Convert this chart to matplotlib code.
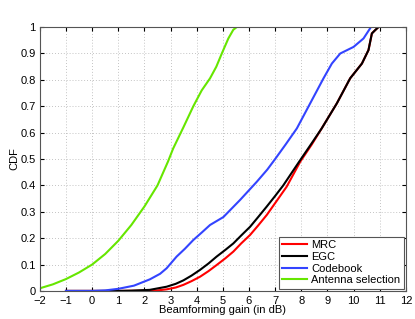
"""CDF of beamforming gain for several combining schemes (MATLAB-style figure)."""

import matplotlib
matplotlib.use("Agg")
import matplotlib.pyplot as plt

plt.rcParams["font.family"] = ["Liberation Sans", "DejaVu Sans"]

# values
mrc_x = [-1.0, 1.0, 2.0, 2.5, 2.85, 3.2, 3.49, 3.8, 4.13, 4.45, 4.76, 5.1, 5.4, 5.7,
         6.04, 6.35, 6.68, 7.05, 7.44, 7.96, 8.4, 8.78, 9.36, 9.87, 10.32, 10.57, 10.7,
         10.82, 10.95]
mrc_y = [0.0, 0.0, 0.001, 0.002, 0.006, 0.013, 0.023, 0.037, 0.054, 0.075, 0.098, 0.124,
         0.149, 0.18, 0.212, 0.248, 0.288, 0.34, 0.395, 0.49, 0.555, 0.616, 0.711, 0.806,
         0.862, 0.913, 0.976, 0.988, 1.0]

egc_x = [-1.0, 1.0, 1.5, 2.2, 2.85, 3.2, 3.49, 3.8, 4.13, 4.45, 4.76, 5.1, 5.4, 5.7,
         6.04, 6.35, 6.68, 7.0, 7.31, 7.96, 8.4, 8.78, 9.36, 9.87, 10.32, 10.57, 10.7,
         10.82, 10.95]
egc_y = [0.0, 0.0, 0.001, 0.004, 0.016, 0.027, 0.04, 0.058, 0.08, 0.104, 0.13, 0.156,
         0.18, 0.21, 0.243, 0.28, 0.32, 0.36, 0.40, 0.496, 0.56, 0.616, 0.711, 0.806,
         0.862, 0.913, 0.976, 0.988, 1.0]

cb_x = [-1.0, 0.0, 0.5, 1.0, 1.6, 2.21, 2.6, 2.85, 3.23, 3.55, 3.87, 4.2, 4.51, 5.02,
        5.66, 6.3, 6.7, 7.0, 7.4, 7.83, 8.34, 8.85, 9.17, 9.49, 10.0, 10.38, 10.63]
cb_y = [0.0, 0.0, 0.002, 0.008, 0.02, 0.044, 0.065, 0.086, 0.13, 0.16, 0.193, 0.222,
        0.25, 0.28, 0.345, 0.414, 0.46, 0.50, 0.555, 0.616, 0.711, 0.806, 0.862, 0.90,
        0.925, 0.957, 0.995]

as_x = [-2.0, -1.5, -1.0, -0.5, 0.0, 0.5, 1.0, 1.5, 2.0, 2.5, 2.9, 3.1, 3.49, 3.87,
        4.19, 4.51, 4.75, 4.96, 5.21, 5.4, 5.53]
as_y = [0.01, 0.025, 0.045, 0.07, 0.10, 0.14, 0.19, 0.25, 0.32, 0.40, 0.49, 0.54, 0.62,
        0.70, 0.76, 0.806, 0.85, 0.90, 0.957, 0.99, 1.0]

labels = ["MRC", "EGC", "Codebook", "Antenna selection"]
x_ticks = list(range(-2, 13))
y_ticks = [0, 0.1, 0.2, 0.3, 0.4, 0.5, 0.6, 0.7, 0.8, 0.9, 1]
y_tick_labels = ["0", "0.1", "0.2", "0.3", "0.4", "0.5", "0.6", "0.7", "0.8", "0.9", "1"]


def main():
    fig = plt.figure(figsize=(4.15, 3.19), dpi=100)
    ax = fig.add_axes([0.096, 0.088, 0.882, 0.827])

    series = [(mrc_x, mrc_y, "#ff0000"), (egc_x, egc_y, "#000000"),
              (cb_x, cb_y, "#3344ff"), (as_x, as_y, "#66e600")]
    for (xs, ys, color), label in zip(series, labels):
        ax.plot(xs, ys, color=color, linewidth=1.5, label=label)

    ax.set_xlim(-2, 12)
    ax.set_ylim(0, 1)
    ax.set_xticks(x_ticks)
    ax.set_yticks(y_ticks)
    ax.set_yticklabels(y_tick_labels)
    ax.tick_params(direction="in", labelsize=8, length=3, top=True, right=True)
    ax.tick_params(axis="x", pad=4)
    ax.tick_params(axis="y", pad=3)
    ax.grid(True, linestyle=(0, (1, 2.5)), color="#b0b0b0", linewidth=0.6)
    for spine in ax.spines.values():
        spine.set_color("#555555")
        spine.set_linewidth(0.8)
    ax.set_xlabel("Beamforming gain (in dB)", fontsize=8, labelpad=-1)
    ax.set_ylabel("CDF", fontsize=8, labelpad=1)

    leg = ax.legend(loc="lower right", fontsize=8, fancybox=False, framealpha=1,
                    edgecolor="#555555", handlelength=2.2, handletextpad=0.4,
                    borderpad=0.3, labelspacing=0.15, borderaxespad=0.2)
    leg.get_frame().set_linewidth(0.8)

    fig.savefig("out.png", dpi=100)


if __name__ == "__main__":
    main()
